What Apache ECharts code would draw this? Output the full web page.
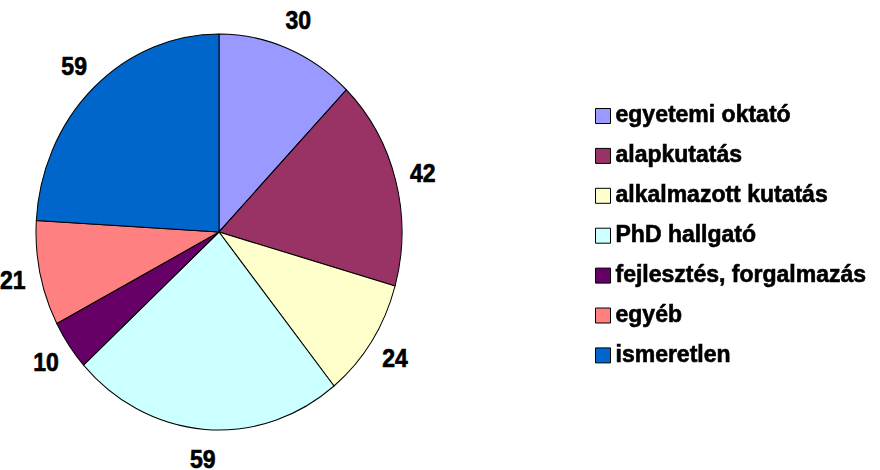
<!DOCTYPE html>
<html>
<head>
<meta charset="utf-8">
<script src="https://cdn.jsdelivr.net/npm/echarts@6/dist/echarts.min.js"></script>
<style>
html,body{margin:0;padding:0;background:#fff;}
#wrap{position:relative;width:880px;height:470px;overflow:hidden;}
#pie{position:absolute;left:0;top:0;width:440px;height:470px;transform-origin:219px 232px;transform:scaleY(1.082);}
#leg{position:absolute;left:0;top:0;width:880px;height:470px;}
</style>
</head>
<body>
<div id="wrap"><div id="pie"></div><div id="leg"></div></div>
<script>
const categories = ['egyetemi oktató','alapkutatás','alkalmazott kutatás','PhD hallgató','fejlesztés, forgalmazás','egyéb','ismeretlen'];
const values = [30, 42, 24, 59, 10, 21, 59];
const colors = ['#9999FF','#993366','#FFFFCC','#CCFFFF','#660066','#FF8080','#0066CC'];

const FONT = "'Liberation Sans', Arial, sans-serif";
const data = categories.map((n, i) => ({ name: n, value: values[i] }));

const pie = echarts.init(document.getElementById('pie'), null, { renderer: 'svg' });
pie.setOption({
  animation: false,
  color: colors,
  series: [
    {
      type: 'pie',
      center: [219, 232],
      radius: [0, 183],
      startAngle: 90,
      clockwise: true,
      silent: true,
      avoidLabelOverlap: false,
      itemStyle: { borderColor: '#000', borderWidth: 1 },
      label: { show: false },
      labelLine: { show: false },
      data: data
    },
    {
      type: 'pie',
      center: [219, 232],
      radius: [0, 416],
      startAngle: 90,
      clockwise: true,
      silent: true,
      avoidLabelOverlap: false,
      itemStyle: { color: 'rgba(0,0,0,0)', borderWidth: 0 },
      label: {
        show: true,
        position: 'inside',
        formatter: '{c}',
        color: '#000',
        fontFamily: FONT,
        fontWeight: 'bold',
        fontSize: 23,
        textBorderColor: '#000',
        textBorderWidth: 0.6
      },
      labelLine: { show: false },
      data: data
    }
  ]
});

const leg = echarts.init(document.getElementById('leg'), null, { renderer: 'canvas' });
leg.setOption({
  animation: false,
  color: colors,
  legend: {
    orient: 'vertical',
    left: 595,
    top: 104,
    padding: 0,
    itemWidth: 15,
    itemHeight: 15,
    itemGap: 15.9,
    icon: 'rect',
    selectedMode: false,
    itemStyle: { borderColor: '#000', borderWidth: 1 },
    textStyle: {
      color: '#000',
      fontFamily: FONT,
      fontWeight: 'bold',
      fontSize: 23,
      lineHeight: 24,
      textBorderColor: '#000',
      textBorderWidth: 0.6
    },
    data: categories
  },
  series: [{
    type: 'pie',
    center: [219, 232],
    radius: [0, 0],
    silent: true,
    label: { show: false },
    labelLine: { show: false },
    itemStyle: { borderColor: '#000', borderWidth: 1 },
    data: data
  }]
});
</script>
</body>
</html>
